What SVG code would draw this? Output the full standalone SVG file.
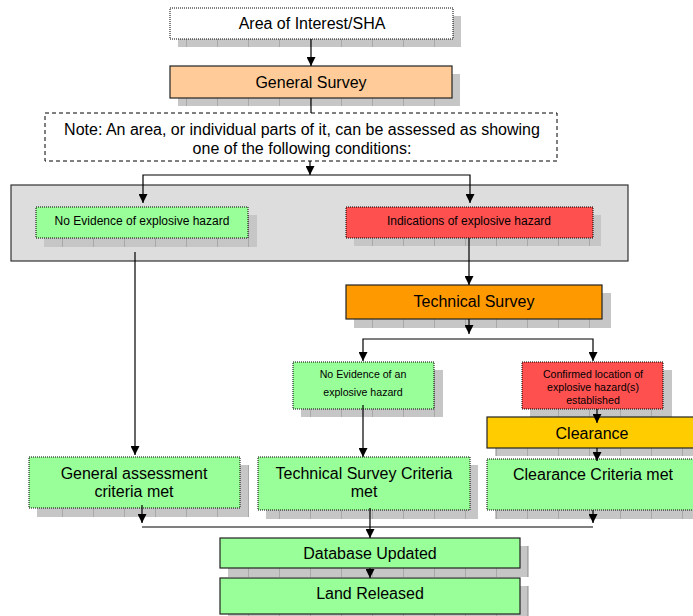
<svg xmlns="http://www.w3.org/2000/svg" width="693" height="616" viewBox="0 0 693 616">
<style>
text{font-family:"Liberation Sans",Arial,sans-serif;fill:#000;text-anchor:middle}
.t15{font-size:16px}
.t14{font-size:16px}
.t11{font-size:12px}
.t10{font-size:10.6px}
.sh{fill:url(#shp)}
.dot{stroke:#000;stroke-width:1;stroke-dasharray:1 1}
.sol{stroke:#222;stroke-width:1.2}
.c{stroke:#000;stroke-width:1.2;fill:none}
.g{fill:#99FF99}
</style>
<defs>
<pattern id="shp" patternUnits="userSpaceOnUse" width="31" height="10">
<rect width="31" height="10" fill="#c6c6c6"/>
<rect x="0" width="1" height="10" fill="#a8a8a8"/>
</pattern>
<marker id="ah" viewBox="0 0 10 10" refX="10" refY="5" markerWidth="9" markerHeight="9" markerUnits="userSpaceOnUse" orient="auto-start-reverse">
<path d="M0,0 L10,5 L0,10 z" fill="#000"/>
</marker>
</defs>

<g id="area-of-interest">
<rect class="sh" x="178" y="16" width="283" height="31"/>
<rect x="170" y="8" width="283" height="31" fill="#fff" class="dot"/>
<text class="t15" x="312" y="29">Area of Interest/SHA</text>
</g>
<g id="general-survey">
<rect class="sh" x="178" y="74" width="282" height="32"/>
<rect x="170" y="66" width="282" height="32" fill="#FFCC99" class="sol"/>
<text class="t15" x="311" y="88">General Survey</text>
</g>
<g id="note">
<rect x="45" y="113" width="512" height="48" fill="#fff" stroke="#000" stroke-width="1" stroke-dasharray="4 3"/>
<text class="t14" x="302" y="135">Note: An area, or individual parts of it, can be assessed as showing</text>
<text class="t14" x="302" y="154">one of the following conditions:</text>
</g>
<g id="conditions-group">
<rect x="11" y="185" width="617" height="76" fill="#DDDDDD" stroke="#333" stroke-width="1.2"/>
</g>
<g id="no-evidence">
<rect class="sh" x="44" y="215" width="213" height="32"/>
<rect x="36" y="207" width="212" height="31" class="g dot"/>
<text class="t11" x="142" y="225">No Evidence of explosive hazard</text>
</g>
<g id="indications">
<rect class="sh" x="354" y="215" width="247" height="31"/>
<rect x="346" y="207" width="247" height="31" fill="#FF5050" class="dot"/>
<text class="t11" x="469" y="225">Indications of explosive hazard</text>
</g>
<g id="technical-survey">
<rect class="sh" x="354" y="293" width="257" height="35"/>
<rect x="346" y="285" width="256" height="34" fill="#FF9900" class="sol"/>
<text class="t15" x="474" y="307">Technical Survey</text>
</g>
<g id="no-evidence-ts">
<rect class="sh" x="301" y="370" width="142" height="47"/>
<rect x="293" y="362" width="141" height="47" class="g dot"/>
<text class="t10" x="363" y="378">No Evidence of an</text>
<text class="t10" x="363" y="396">explosive hazard</text>
</g>
<g id="confirmed">
<rect class="sh" x="530" y="370" width="142" height="48"/>
<rect x="522" y="362" width="141" height="47" fill="#FF5050" class="dot"/>
<text class="t10" x="593" y="378">Confirmed location of</text>
<text class="t10" x="593" y="391">explosive hazard(s)</text>
<text class="t10" x="593" y="404">established</text>
</g>
<g id="clearance">
<rect class="sh" x="495" y="425" width="210" height="31"/>
<rect x="487" y="417" width="210" height="31" fill="#FFCC00" class="sol"/>
<text class="t15" x="592" y="439">Clearance</text>
</g>
<g id="general-assessment">
<rect class="sh" x="37" y="465" width="212" height="52"/>
<rect x="29" y="457" width="211" height="51" class="g dot"/>
<text class="t15" x="134" y="479">General assessment</text>
<text class="t15" x="134" y="497">criteria met</text>
</g>
<g id="ts-criteria">
<rect class="sh" x="266" y="465" width="212" height="54"/>
<rect x="258" y="457" width="212" height="53" class="g dot"/>
<text class="t15" x="364" y="479">Technical Survey Criteria</text>
<text class="t15" x="364" y="497">met</text>
</g>
<g id="clearance-criteria">
<rect class="sh" x="495" y="467" width="210" height="52"/>
<rect x="487" y="459" width="210" height="51" class="g dot"/>
<text class="t15" x="593" y="480">Clearance Criteria met</text>
</g>
<g id="database-updated">
<rect class="sh" x="228" y="546" width="301" height="31"/>
<rect x="220" y="538" width="300" height="30" class="g sol"/>
<text class="t15" x="370" y="559">Database Updated</text>
</g>
<g id="land-released">
<rect class="sh" x="228" y="586" width="301" height="36"/>
<rect x="220" y="578" width="300" height="36" class="g sol"/>
<text class="t15" x="370" y="599">Land Released</text>
</g>

<g id="connectors">
<path class="c" d="M311,39 V66" marker-end="url(#ah)"/>
<path class="c" d="M311,98 V113"/>
<path class="c" d="M310,161 V175" marker-end="url(#ah)"/>
<path class="c" d="M143,203 V175 H470 V203" marker-start="url(#ah)" marker-end="url(#ah)"/>
<path class="c" d="M135,252 V455" marker-end="url(#ah)"/>
<path class="c" d="M469,238 V285" marker-end="url(#ah)"/>
<path class="c" d="M469,319 V334" marker-end="url(#ah)"/>
<path class="c" d="M363,361 V339 H593 V361" marker-start="url(#ah)" marker-end="url(#ah)"/>
<path class="c" d="M363,405 V457" marker-end="url(#ah)"/>
<path class="c" d="M597,409 V423" marker-end="url(#ah)"/>
<path class="c" d="M597,448 V461" marker-end="url(#ah)"/>
<path class="c" d="M142,505 V523" marker-end="url(#ah)"/>
<path class="c" d="M593,510 V523" marker-end="url(#ah)"/>
<path class="c" d="M142,527 H593"/>
<path class="c" d="M370,508 V538" marker-end="url(#ah)"/>
<path class="c" d="M370,568 V578" marker-end="url(#ah)"/>
</g>
</svg>
